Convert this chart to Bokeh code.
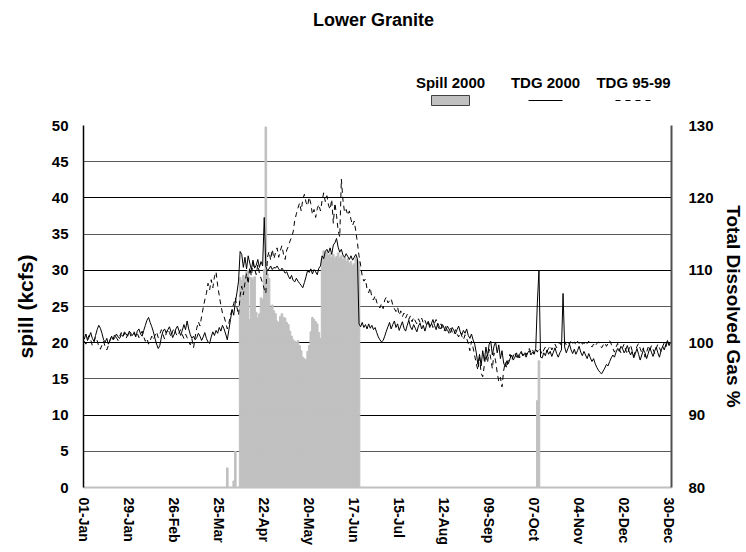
import numpy as np
from bokeh.plotting import figure
from bokeh.layouts import column
from bokeh.models import Range1d, LinearAxis, FixedTicker, Grid
from bokeh.core.properties import value
from bokeh.embed import file_html
from bokeh.resources import INLINE

# ---------------- data (year 2000, day index 0 = 01-Jan) ----------------
tick_days = [0, 28, 56, 84, 112, 140, 168, 196, 224, 252, 280, 308, 336, 364]
tick_labels = ["01-Jan", "29-Jan", "26-Feb", "25-Mar", "22-Apr", "20-May", "17-Jun",
               "15-Jul", "12-Aug", "09-Sep", "07-Oct", "04-Nov", "02-Dec", "30-Dec"]

series_names = ["Spill 2000", "TDG 2000", "TDG 95-99"]

# Spill 2000 (kcfs), only days with spill
spill_days = [89, 93, 94,
              97, 98, 99, 100, 101, 102, 103, 104, 105, 106,
              107, 108, 109, 110, 111, 112, 113, 114, 115, 116,
              117, 118, 119, 120, 121, 122, 123, 124, 125, 126,
              127, 128, 129, 130, 131, 132, 133, 134, 135, 136,
              137, 138, 139, 140, 141, 142, 143, 144, 145, 146,
              147, 148, 149, 150, 151, 152, 153, 154, 155, 156,
              157, 158, 159, 160, 161, 162, 163, 164, 165, 166,
              167, 168, 169, 170, 171,
              282, 283]
spill_values = [2.7, 0.9, 5.0,
                29.0, 28.6, 29.3, 28.8, 29.8, 30.0, 23.2, 29.0, 28.7, 29.1,
                24.2, 23.4, 24.0, 26.2, 26.0, 30.1, 49.8, 29.5, 28.9, 24.8,
                25.2, 24.4, 24.0, 23.0, 22.8, 23.6, 24.0, 23.5, 23.4, 22.8,
                22.5, 21.6, 20.9, 20.4, 20.2, 20.0, 20.3, 19.6, 18.9, 18.0,
                17.8, 17.6, 18.8, 19.6, 21.5, 23.5, 23.2, 22.9, 22.6, 21.4,
                20.6, 31.6, 32.7, 32.4, 32.6, 32.1, 32.3, 31.8, 32.2, 31.6,
                31.9, 32.4, 31.7, 32.0, 31.5, 31.8, 31.2, 31.6, 31.0, 31.2,
                30.7, 30.9, 31.8, 31.4, 31.2,
                12.0, 17.5]

# TDG 2000 (%), daily
tdg2000_jan = [100.5, 101.2, 100.3, 100.8, 101.4, 100.6, 100.2, 101.0, 101.8, 102.4,
               102.0, 101.3, 100.4, 100.1, 100.6, 99.8, 100.3, 100.9, 100.4, 100.7,
               101.2, 100.8, 100.6, 101.1, 100.9, 101.5, 101.2, 100.9, 101.6, 101.3, 101.0]
tdg2000_feb = [101.4, 100.8, 101.6, 101.9, 101.2, 100.9, 101.7, 102.4, 103.1, 103.5,
               102.8, 102.2, 101.5, 100.6, 99.8, 99.2, 99.6, 100.8, 101.6, 101.9,
               101.3, 101.8, 102.2, 101.5, 100.7, 101.2, 101.9, 102.3, 101.6]
tdg2000_mar = [101.0, 101.7, 102.5, 101.8, 103.0, 101.9, 101.1, 100.6, 100.9, 100.4,
               100.7, 101.3, 100.9, 100.3, 100.8, 101.4, 100.6, 100.1, 99.9, 100.8,
               101.5, 101.0, 101.7, 101.3, 102.1, 101.6, 102.4, 101.9, 101.2, 100.4, 101.8]
tdg2000_apr = [103.2, 104.6, 103.8, 105.6, 106.9, 108.5, 112.6, 112.2, 110.4, 111.8,
               110.2, 112.0, 111.0, 110.1, 111.4, 110.3, 110.7, 111.5, 110.4, 111.2,
               110.6, 117.3, 110.5, 110.0, 110.2, 110.6, 110.1, 110.4, 110.3, 110.6]
tdg2000_may = [110.2, 109.9, 110.3, 110.0, 109.6, 109.8, 109.2, 108.8, 109.3, 108.6,
               108.4, 108.9, 108.5, 108.2, 107.9, 107.6, 108.3, 109.1, 110.0, 109.7,
               110.2, 109.5, 110.1, 109.8, 109.4, 110.3, 110.6, 112.0, 111.6, 112.6, 112.9]
tdg2000_jun = [112.4, 113.1, 112.2, 113.5, 113.8, 114.4, 113.2, 112.5, 112.9, 112.1,
               111.8, 112.3, 111.9, 111.5, 112.0, 111.4, 111.8, 112.2, 111.6, 102.6,
               102.2, 102.8, 102.1, 102.5, 101.9, 102.6, 102.0, 102.4, 101.8, 102.1]
tdg2000_jul = [101.4, 100.8, 100.4, 100.1, 100.3, 100.9, 101.6, 102.2, 102.8, 101.9,
               102.5, 103.0, 102.1, 102.6, 101.7, 102.3, 102.9, 102.0, 101.6, 102.4,
               103.1, 102.2, 101.8, 102.5, 102.0, 101.5, 102.3, 102.7, 101.9, 102.4, 101.6]
tdg2000_aug = [102.4, 102.9, 102.1, 102.6, 103.2, 102.4, 101.8, 102.7, 102.2, 101.9,
               102.5, 102.0, 101.6, 102.3, 101.9, 101.4, 102.1, 101.7, 101.2, 101.8,
               102.3, 101.5, 101.1, 101.7, 101.3, 101.9, 101.0, 100.6, 101.2, 100.4, 99.8]
tdg2000_sep = [98.6, 97.0, 98.4, 96.8, 98.9, 97.5, 99.4, 98.1, 99.8, 100.2,
               98.3, 99.5, 100.1, 98.6, 99.7, 97.8, 98.9, 97.2, 96.7, 97.5,
               97.1, 97.8, 98.3, 97.6, 98.0, 98.6, 97.9, 98.4, 98.8, 98.2]
tdg2000_oct = [98.5, 98.0, 98.6, 98.9, 98.3, 98.7, 98.4, 99.2, 105.5, 110.0,
               98.0, 97.9, 98.6, 98.2, 99.0, 98.4, 98.8, 98.1, 98.7, 99.3,
               98.5, 98.0, 98.6, 99.0, 106.8, 99.4, 98.6, 99.2, 99.8, 99.0, 98.5]
tdg2000_nov = [99.1, 98.4, 98.9, 99.5, 98.7, 98.2, 98.8, 98.3, 97.8, 98.5,
               97.9, 97.4, 97.8, 97.1, 96.6, 96.2, 95.9, 95.7, 96.1, 96.5,
               97.0, 96.8, 97.4, 97.9, 98.3, 98.0, 98.7, 99.2, 98.8, 99.5]
tdg2000_dec = [99.2, 98.6, 99.0, 99.6, 98.9, 98.3, 98.8, 97.9, 98.5, 99.2,
               98.4, 97.6, 98.3, 99.0, 98.6, 97.8, 98.5, 99.3, 98.7, 98.1,
               98.8, 99.4, 98.6, 98.0, 98.9, 99.5, 99.0, 99.8, 100.3, 99.6, 100.1]

# TDG 95-99 average (%), daily
tdg9599_jan = [100.2, 99.8, 100.6, 101.0, 100.4, 99.6, 100.1, 100.8, 100.3, 99.5,
               99.1, 99.7, 100.2, 99.4, 99.0, 99.6, 100.4, 100.9, 100.5, 101.2,
               100.7, 100.3, 100.9, 101.4, 100.8, 101.3, 100.6, 101.1, 101.6, 100.9, 101.2]
tdg9599_feb = [101.5, 100.9, 101.3, 100.7, 101.0, 101.6, 100.8, 100.2, 100.6, 99.8,
               100.3, 100.9, 100.4, 101.0, 101.5, 100.7, 101.2, 101.8, 101.1, 100.5,
               101.3, 101.9, 101.4, 100.8, 101.6, 102.0, 101.3, 100.9, 101.4]
tdg9599_mar = [101.8, 101.1, 100.6, 101.2, 100.7, 100.1, 99.7, 100.5, 99.3, 100.8,
               102.0, 102.9, 102.3, 103.6, 104.8, 105.9, 106.8, 108.2, 107.3, 108.7,
               107.6, 109.1, 109.8, 107.9, 106.5, 105.2, 104.1, 103.6, 102.8, 101.9, 102.7]
tdg9599_apr = [103.8, 104.6, 105.4, 106.2, 104.9, 103.8, 106.5, 107.8, 106.6, 108.3,
               109.6, 108.1, 110.4, 109.2, 111.0, 110.2, 109.4, 110.8, 109.6, 108.9,
               108.2, 107.4, 106.8, 111.8, 112.6, 111.4, 112.9, 111.6, 112.4, 113.1]
tdg9599_may = [111.8, 112.7, 113.4, 112.2, 111.5, 112.8, 113.3, 114.0, 114.6, 115.3,
               116.9, 117.8, 118.6, 119.3, 118.2, 119.8, 120.5, 119.4, 118.9, 120.1,
               119.2, 117.7, 118.4, 117.3, 118.5, 119.1, 118.2, 119.6, 120.7, 119.5, 120.3]
tdg9599_jun = [119.0, 118.4, 119.8, 116.5, 119.3, 117.6, 115.5, 114.6, 122.6, 119.7,
               118.0, 118.4, 117.6, 118.2, 117.0, 116.2, 116.8, 115.4, 113.8, 112.0,
               110.7, 109.2, 108.5, 108.8, 107.4, 106.9, 107.6, 106.2, 105.9, 106.5]
tdg9599_jul = [105.6, 105.1, 104.8, 105.4, 104.7, 105.9, 106.3, 105.5, 105.8, 106.1,
               105.2, 104.7, 104.3, 104.9, 103.8, 104.4, 103.6, 104.1, 103.4, 103.9,
               103.2, 103.7, 102.9, 103.5, 103.0, 102.6, 103.3, 102.8, 103.4, 102.7, 103.1]
tdg9599_aug = [102.5, 103.0, 102.4, 102.8, 102.1, 102.7, 103.2, 102.3, 101.9, 102.6,
               102.0, 101.6, 102.3, 101.8, 101.3, 102.0, 101.5, 101.1, 101.8, 101.2,
               100.8, 101.5, 100.9, 100.4, 101.1, 100.6, 99.9, 98.9, 100.2, 99.3, 98.2]
tdg9599_sep = [97.1, 96.2, 98.0, 95.8, 95.3, 96.9, 98.4, 97.2, 99.1, 97.8,
               96.4, 98.6, 97.5, 95.9, 94.6, 95.2, 93.9, 96.1, 97.3, 96.5,
               97.8, 98.4, 97.6, 98.1, 98.7, 98.0, 98.5, 97.9, 98.6, 98.2]
tdg9599_oct = [98.8, 98.3, 98.9, 99.2, 98.6, 99.0, 98.5, 99.1, 98.7, 99.3,
               98.9, 98.4, 99.0, 99.4, 98.8, 99.2, 99.6, 99.0, 99.5, 99.8,
               99.3, 99.7, 100.0, 99.6, 99.9, 100.2, 99.7, 100.1, 99.8, 100.3, 99.9]
tdg9599_nov = [100.1, 99.7, 100.2, 99.9, 100.3, 99.8, 100.0, 99.6, 99.9, 100.2,
               99.7, 99.4, 99.8, 99.5, 99.9, 100.1, 99.6, 99.3, 99.7, 100.0,
               99.5, 99.9, 100.3, 99.8, 99.2, 98.7, 99.4, 99.9, 99.1, 98.6]
tdg9599_dec = [99.3, 99.8, 99.0, 98.4, 99.1, 99.7, 98.9, 98.2, 98.8, 99.5,
               99.9, 99.2, 98.6, 99.3, 98.0, 98.7, 99.4, 98.9, 99.6, 99.1,
               98.5, 99.2, 99.8, 99.3, 98.8, 99.5, 100.0, 99.4, 100.2, 99.7, 100.1]

tdg2000 = (tdg2000_jan + tdg2000_feb + tdg2000_mar + tdg2000_apr + tdg2000_may + tdg2000_jun +
           tdg2000_jul + tdg2000_aug + tdg2000_sep + tdg2000_oct + tdg2000_nov + tdg2000_dec)
tdg9599 = (tdg9599_jan + tdg9599_feb + tdg9599_mar + tdg9599_apr + tdg9599_may + tdg9599_jun +
           tdg9599_jul + tdg9599_aug + tdg9599_sep + tdg9599_oct + tdg9599_nov + tdg9599_dec)
days = np.arange(len(tdg2000))

FONT = "Liberation Sans"
BAR = "#c0c0c0"

W = 746
H = 552
HEAD_H = 108
BL, BR = 83, 75          # left / right borders -> plot frame 83..671

# ---------------- header (title + legend), page-pixel coordinates ----------------
head = figure(width=W, height=HEAD_H, output_backend="svg", toolbar_location=None,
              x_range=Range1d(BL, W - BR), y_range=Range1d(HEAD_H, 0),
              x_axis_location=None, y_axis_location=None,
              min_border_left=BL, min_border_right=BR, min_border_top=0, min_border_bottom=0)
head.outline_line_color = None
head.xgrid.visible = False
head.ygrid.visible = False

head.text(x=[373], y=[19], text=["Lower Granite"], text_align="center", text_baseline="middle",
          text_font=value(FONT), text_font_style="bold", text_font_size="18px", text_color="black")

leg_x = [450, 545, 633]
head.text(x=leg_x, y=[82, 82, 82], text=series_names, text_align="center", text_baseline="middle",
          text_font=value(FONT), text_font_style="bold", text_font_size="15px", text_color="black")
# legend keys
head.quad(left=[leg_x[0] - 19], right=[leg_x[0] + 19], top=[95], bottom=[105],
          fill_color=BAR, line_color="#404040", line_width=1)
head.line(x=[leg_x[1] - 17, leg_x[1] + 17], y=[100, 100], line_color="black", line_width=1)
head.line(x=[leg_x[2] - 18, leg_x[2] + 18], y=[100, 100], line_color="black", line_width=1,
          line_dash="5 5")

# ---------------- main chart ----------------
p = figure(width=W, height=H - HEAD_H, output_backend="svg", toolbar_location=None,
           x_range=Range1d(-0.5, 365.5), y_range=Range1d(0, 50),
           min_border_left=BL, min_border_right=BR, min_border_top=17, min_border_bottom=65)
p.extra_y_ranges = {"tdg": Range1d(80, 130)}
p.outline_line_color = None
p.background_fill_color = "white"
p.border_fill_color = "white"

# grids
p.xgrid.visible = False
p.ygrid.ticker = FixedTicker(ticks=[10, 20, 30, 40, 50])
p.ygrid.grid_line_color = "black"
p.ygrid.grid_line_width = 1
p.add_layout(Grid(dimension=1, ticker=FixedTicker(ticks=[5, 15, 25, 35, 45]),
                  grid_line_color="#5a5a5a", grid_line_width=1))

# bars
p.vbar(x=spill_days, top=spill_values, bottom=0, width=1.0,
       fill_color=BAR, line_color=BAR, line_width=1)

# lines
p.line(days, tdg2000, y_range_name="tdg", line_color="black", line_width=1)
p.line(days, tdg9599, y_range_name="tdg", line_color="black", line_width=1, line_dash="5 4")

# axes
xa = p.xaxis[0]
xa.ticker = FixedTicker(ticks=tick_days)
xa.major_label_overrides = {d: l for d, l in zip(tick_days, tick_labels)}
xa.major_label_orientation = "vertical"
xa.major_label_text_font = FONT
xa.major_label_text_font_style = "bold"
xa.major_label_text_font_size = "14px"
xa.major_label_text_color = "black"
xa.major_tick_line_color = None
xa.minor_tick_line_color = None
xa.major_tick_out = 0
xa.major_tick_in = 0
xa.minor_tick_out = 0
xa.major_label_standoff = 10
xa.axis_line_color = BAR
xa.axis_line_width = 2

ya = p.yaxis[0]
ya.ticker = FixedTicker(ticks=[0, 5, 10, 15, 20, 25, 30, 35, 40, 45, 50])
ya.axis_label = "spill (kcfs)"
ry = LinearAxis(y_range_name="tdg", ticker=FixedTicker(ticks=[80, 90, 100, 110, 120, 130]),
                axis_label="Total Dissolved Gas %")
p.add_layout(ry, "right")
for ax in (ya, ry):
    ax.major_label_text_font = FONT
    ax.major_label_text_font_style = "bold"
    ax.major_label_text_font_size = "15px"
    ax.major_label_text_color = "black"
    ax.major_tick_line_color = None
    ax.minor_tick_line_color = None
    ax.major_tick_out = 0
    ax.major_tick_in = 0
    ax.minor_tick_out = 0
    ax.minor_tick_in = 0
    ax.axis_label_text_font = FONT
    ax.axis_label_text_font_style = "bold"
    ax.axis_label_text_color = "black"
ya.axis_label_text_font_size = "21px"
ry.axis_label_text_font_size = "19px"
ya.major_label_standoff = 15
ya.axis_label_standoff = 12
ya.axis_line_color = "black"
ya.axis_line_width = 1.5
ry.major_label_standoff = 17
ry.axis_label_standoff = 6
ry.axis_line_color = "#505050"
ry.axis_line_width = 2

layout = column(head, p, spacing=0)
open("out.html", "w").write(file_html(layout, INLINE))
